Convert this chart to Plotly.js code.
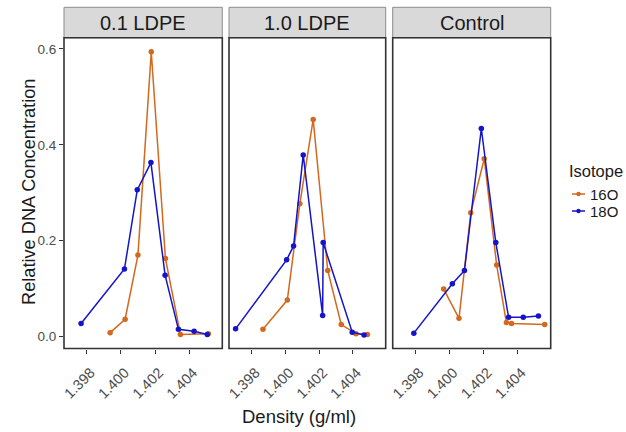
<!DOCTYPE html>
<html><head><meta charset="utf-8">
<script src="https://cdn.plot.ly/plotly-3.0.1.min.js"></script>
<style>body{margin:0;background:#fff}#c{width:626px;height:432px}</style>
</head><body><div id="c"></div>
<script>
const panels = ["0.1 LDPE", "1.0 LDPE", "Control"];
const xTicks = [1.398, 1.400, 1.402, 1.404];
const xTickLabels = ["1.398", "1.400", "1.402", "1.404"];
const yTicks = [0.0, 0.2, 0.4, 0.6];
const yTickLabels = ["0.0", "0.2", "0.4", "0.6"];

// 16O
const dens16_p1 = [1.39937, 1.40025, 1.40100, 1.40178, 1.40261, 1.40349, 1.40512];
const conc16_p1 = [0.008, 0.036, 0.170, 0.594, 0.163, 0.004, 0.006];
const dens16_p2 = [1.39868, 1.40012, 1.40086, 1.40165, 1.40251, 1.40331, 1.40418, 1.40486];
const conc16_p2 = [0.015, 0.076, 0.277, 0.453, 0.138, 0.025, 0.006, 0.004];
const dens16_p3 = [1.39966, 1.40056, 1.40125, 1.40204, 1.40277, 1.40334, 1.40364, 1.40559];
const conc16_p3 = [0.099, 0.038, 0.258, 0.371, 0.149, 0.029, 0.027, 0.025];
// 18O
const dens18_p1 = [1.39767, 1.40021, 1.40096, 1.40176, 1.40259, 1.40337, 1.40429, 1.40506];
const conc18_p1 = [0.027, 0.141, 0.306, 0.363, 0.128, 0.015, 0.011, 0.004];
const dens18_p2 = [1.39706, 1.40008, 1.40049, 1.40106, 1.40221, 1.40224, 1.40396, 1.40466];
const conc18_p2 = [0.016, 0.160, 0.189, 0.379, 0.044, 0.196, 0.009, 0.003];
const dens18_p3 = [1.39791, 1.40017, 1.40088, 1.40187, 1.40272, 1.40347, 1.40433, 1.40522];
const conc18_p3 = [0.007, 0.110, 0.138, 0.434, 0.196, 0.040, 0.040, 0.043];

const seriesNames = ["16O", "18O"];
const colors = {"16O": "#D2691E", "18O": "#1414C8"};

const dens16 = [dens16_p1, dens16_p2, dens16_p3];
const conc16 = [conc16_p1, conc16_p2, conc16_p3];
const dens18 = [dens18_p1, dens18_p2, dens18_p3];
const conc18 = [conc18_p1, conc18_p2, conc18_p3];

const W = 626, H = 432;
const px = v => v / W, py = v => 1 - v / H;
const panelX = [[64, 222.3], [229, 385.7], [392.7, 550.7]];
const panelTop = 37.7, panelBot = 348.5;
const stripTop = 7.3;

const traces = [];
for (let i = 0; i < 3; i++) {
  const ax = i === 0 ? "" : String(i + 1);
  traces.push({x: dens16[i], y: conc16[i], mode: "lines+markers", name: seriesNames[0],
    showlegend: false, xaxis: "x" + ax, yaxis: "y" + ax,
    line: {color: colors["16O"], width: 1.5}, marker: {color: colors["16O"], size: 5.5}});
  traces.push({x: dens18[i], y: conc18[i], mode: "lines+markers", name: seriesNames[1],
    showlegend: false, xaxis: "x" + ax, yaxis: "y" + ax,
    line: {color: colors["18O"], width: 1.5}, marker: {color: colors["18O"], size: 5.5}});
}

const layout = {
  width: W, height: H, margin: {l: 0, r: 0, t: 0, b: 0},
  paper_bgcolor: "#fff", plot_bgcolor: "#fff",
  font: {family: "Liberation Sans, Arial, sans-serif", color: "#4D4D4D"},
  showlegend: false,
  shapes: [], annotations: []
};
const xr = [1.39667, 1.40594], yr = [-0.025, 0.6235];
for (let i = 0; i < 3; i++) {
  const ax = i === 0 ? "" : String(i + 1);
  layout["xaxis" + ax] = {domain: [px(panelX[i][0]), px(panelX[i][1])], range: xr,
    anchor: "y" + ax, tickvals: xTicks, ticktext: xTickLabels, tickangle: -45,
    ticks: "outside", ticklen: 4, tickcolor: "#333", tickwidth: 1,
    ticklabelshift: 4, ticklabelstandoff: 5,
    tickfont: {size: 14.5, color: "#4D4D4D"}, showgrid: false, zeroline: false,
    showline: false};
  layout["yaxis" + ax] = {domain: [py(panelBot), py(panelTop)], range: yr,
    anchor: "x" + ax, tickvals: yTicks, ticktext: yTickLabels,
    showticklabels: i === 0, ticks: i === 0 ? "outside" : "", ticklen: 4, tickcolor: "#333",
    tickfont: {size: 13.5, color: "#4D4D4D"}, showgrid: false, zeroline: false, showline: false};
  layout.shapes.push({type: "rect", xref: "paper", yref: "paper",
    x0: px(panelX[i][0]), x1: px(panelX[i][1]), y0: py(panelBot), y1: py(panelTop),
    line: {color: "#333", width: 1.6}, fillcolor: "rgba(0,0,0,0)", layer: "above"});
  layout.shapes.push({type: "rect", xref: "paper", yref: "paper",
    x0: px(panelX[i][0]), x1: px(panelX[i][1]), y0: py(panelTop), y1: py(stripTop),
    line: {color: "#8c8c8c", width: 1}, fillcolor: "#D9D9D9", layer: "below"});
  layout.annotations.push({xref: "paper", yref: "paper",
    x: px((panelX[i][0] + panelX[i][1]) / 2), y: py((stripTop + panelTop) / 2),
    text: panels[i], showarrow: false, font: {size: 20, color: "#1a1a1a"},
    xanchor: "center", yanchor: "middle"});
}
layout.annotations.push({xref: "paper", yref: "paper", x: px(299), y: py(416),
  text: "Density (g/ml)", showarrow: false, font: {size: 18.5, color: "#1a1a1a"},
  xanchor: "center", yanchor: "middle"});
layout.annotations.push({xref: "paper", yref: "paper", x: px(29), y: py(192),
  text: "Relative DNA Concentration", showarrow: false, textangle: -90,
  font: {size: 18.2, color: "#1a1a1a"}, xanchor: "center", yanchor: "middle"});

// legend (drawn manually for compact key spacing)
layout.annotations.push({xref: "paper", yref: "paper", x: px(567), y: py(171),
  text: "Isotope", showarrow: false, font: {size: 16.5, color: "#1a1a1a"},
  xanchor: "left", yanchor: "middle"});
const legendRows = [194, 211];
seriesNames.forEach((s, k) => {
  const yy = legendRows[k];
  layout.shapes.push({type: "line", xref: "paper", yref: "paper",
    x0: px(572), x1: px(585), y0: py(yy), y1: py(yy), line: {color: colors[s], width: 1.5}});
  layout.shapes.push({type: "circle", xref: "paper", yref: "paper",
    x0: px(576.3), x1: px(580.7), y0: py(yy + 2.2), y1: py(yy - 2.2),
    line: {color: colors[s], width: 0}, fillcolor: colors[s]});
  layout.annotations.push({xref: "paper", yref: "paper", x: px(588), y: py(yy),
    text: s, showarrow: false, font: {size: 15, color: "#1a1a1a"},
    xanchor: "left", yanchor: "middle"});
});

Plotly.newPlot("c", traces, layout, {displayModeBar: false, staticPlot: true});
</script></body></html>
